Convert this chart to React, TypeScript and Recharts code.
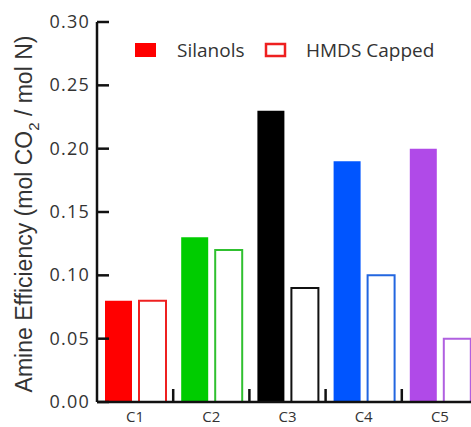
import { BarChart, Bar, XAxis, YAxis, Cell } from "recharts"

const CATEGORIES = ['C1', 'C2', 'C3', 'C4', 'C5']
const SILANOLS = [0.08, 0.13, 0.23, 0.19, 0.2]
const HMDS_CAPPED = [0.08, 0.12, 0.09, 0.1, 0.05]
const FILL_COLORS = ['#ff0000', '#00cc00', '#000000', '#0055ff', '#b04ae8']
const EDGE_COLORS = ['#ee2020', '#30c030', '#111111', '#2266e0', '#b060e0']
const Y_TICKS = [0, 0.05, 0.1, 0.15, 0.2, 0.25, 0.3]

const data = CATEGORIES.map((name, i) => ({
  name,
  silanols: SILANOLS[i],
  hmds: HMDS_CAPPED[i],
}))

const AXIS = '#111'
const TEXT = '#333'

const LeftTick = ({ x, y, payload }: any) => (
  <g>
    <line x1={x} y1={y} x2={x + 12} y2={y} stroke={AXIS} strokeWidth={2.5} />
    <text x={x - 7} y={y} dy={6} textAnchor="end" fill={TEXT}
      style={{ fontFamily: 'Open Sans', fontSize: 18, letterSpacing: 1.2 }}>
      {payload.value.toFixed(2)}
    </text>
  </g>
)

const RightTick = ({ x, y }: any) => (
  <line x1={x} y1={y} x2={x - 12} y2={y} stroke={AXIS} strokeWidth={2.5} />
)

// category label plus the short upward separator tick at the right edge of each band
const CatTick = ({ x, y, payload, index, width, visibleTicksCount }: any) => {
  const half = width / visibleTicksCount / 2
  return (
    <g>
      {index < visibleTicksCount - 1 && (
        <line x1={x + half} y1={y} x2={x + half} y2={y - 13} stroke={AXIS} strokeWidth={2.5} />
      )}
      <text x={x} y={y} dy={20} textAnchor="middle" fill={TEXT}
        style={{ fontFamily: 'Open Sans', fontSize: 15 }}>
        {payload.value}
      </text>
    </g>
  )
}

const YLabel = () => (
  <text transform="translate(32, 214) rotate(-90)" textAnchor="middle" fill={TEXT}
    style={{ fontFamily: 'Liberation Sans', fontSize: 23 }}>
    Amine Efficiency (mol CO<tspan dy={7} fontSize={15}>2</tspan><tspan dy={-7}> / mol N)</tspan>
  </text>
)

const LegendBox = () => (
  <svg width={320} height={22} style={{ position: 'absolute', left: 135, top: 42, overflow: 'visible' }}>
    <rect x={0} y={1} width={21} height={14} fill={FILL_COLORS[0]} />
    <text x={42} y={15} fill={TEXT} style={{ fontFamily: 'Open Sans', fontSize: 19 }}>Silanols</text>
    <rect x={131} y={2} width={19} height={12} fill="#fff" stroke={EDGE_COLORS[0]} strokeWidth={2.5} />
    <text x={171} y={15} fill={TEXT} style={{ fontFamily: 'Open Sans', fontSize: 19 }}>HMDS Capped</text>
  </svg>
)

export default function App() {
  return (
    <div style={{ position: 'absolute', left: 0, top: 0, width: 471, height: 427, overflow: 'hidden', background: '#fff' }}>
      <BarChart width={490} height={427} data={data}
        margin={{ top: 22, right: 12, left: 0, bottom: 0 }}
        barCategoryGap={8} barGap={7}>
        <XAxis xAxisId="top" orientation="top" dataKey="name" height={0} tick={false}
          tickLine={false} axisLine={{ stroke: AXIS, strokeWidth: 2.5 }} />
        <XAxis xAxisId="cat" dataKey="name" height={25} tickLine={false}
          axisLine={{ stroke: AXIS, strokeWidth: 2.5 }} tickSize={0} tickMargin={0} tick={<CatTick />} />
        <YAxis yAxisId="left" width={97} domain={[0, 0.3]} ticks={Y_TICKS} interval={0}
          tickLine={false} tickSize={0} tickMargin={0} axisLine={{ stroke: AXIS, strokeWidth: 2.5 }}
          tick={<LeftTick />} label={<YLabel />} />
        <YAxis yAxisId="right" orientation="right" width={0} domain={[0, 0.3]} ticks={Y_TICKS}
          interval={0} tickLine={false} tickSize={0} tickMargin={0}
          axisLine={{ stroke: AXIS, strokeWidth: 2.5 }} tick={<RightTick />} />
        <Bar xAxisId="cat" yAxisId="left" dataKey="silanols" name="Silanols" isAnimationActive={false}>
          {data.map((_, i) => <Cell key={i} fill={FILL_COLORS[i]} />)}
        </Bar>
        <Bar xAxisId="cat" yAxisId="left" dataKey="hmds" name="HMDS Capped" isAnimationActive={false}>
          {data.map((_, i) => <Cell key={i} fill="#fff" stroke={EDGE_COLORS[i]} strokeWidth={2} />)}
        </Bar>
      </BarChart>
      <LegendBox />
    </div>
  )
}
